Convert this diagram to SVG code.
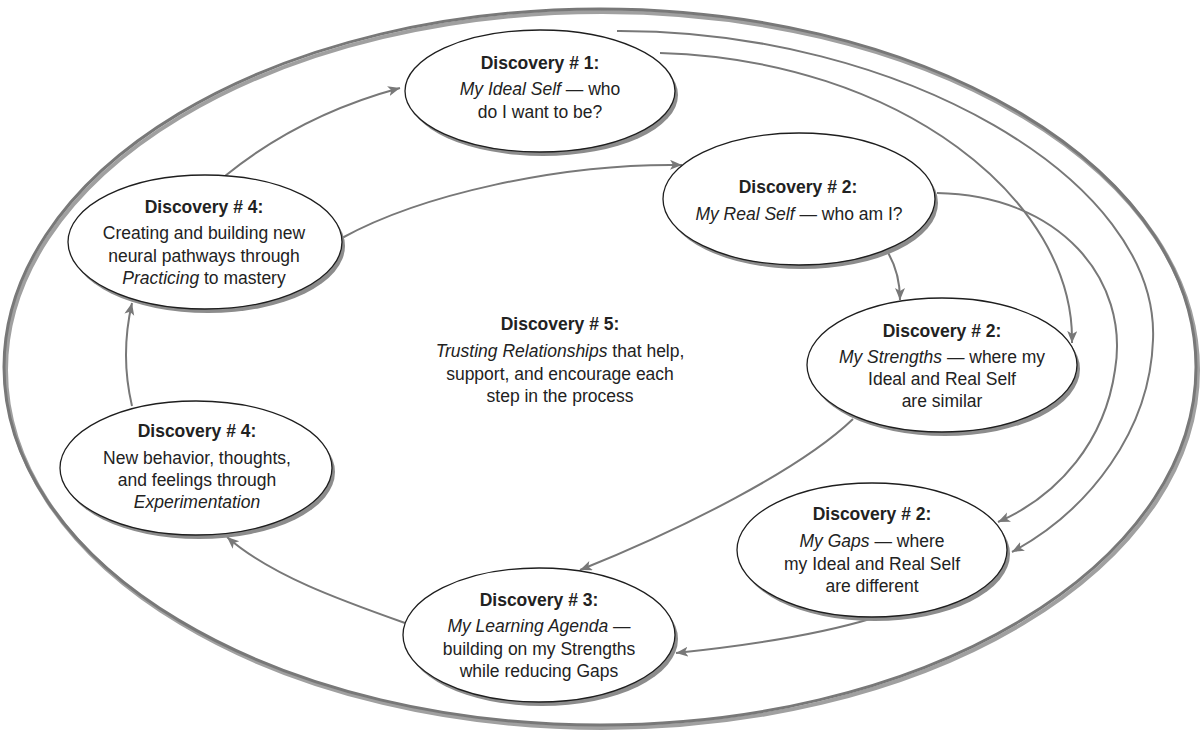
<svg xmlns="http://www.w3.org/2000/svg" width="1200" height="732" viewBox="0 0 1200 732">
<style>
.sh{fill:#8c8c8c;stroke:none}
.nd{fill:#fff;stroke:#1e1e1e;stroke-width:1.3}
.t{font-family:"Liberation Sans",Arial,sans-serif;font-size:17.5px;fill:#222;text-anchor:middle}
.b{font-weight:bold}
.i{font-style:italic}
.c{fill:none;stroke:#787878;stroke-width:2}
</style>
<defs>
<marker id="ah" markerUnits="userSpaceOnUse" markerWidth="14" markerHeight="12" refX="12" refY="5" orient="auto">
<path d="M0,0 L12,5 L0,10 L3,5 z" fill="#787878"/>
</marker>
</defs>
<rect width="1200" height="732" fill="#fff"/>
<g id="outer">
<ellipse cx="602" cy="370" rx="596" ry="358" fill="none" stroke="#a0a0a0" stroke-width="4"/>
<ellipse cx="600" cy="367" rx="596" ry="358" fill="none" stroke="#787878" stroke-width="3"/>
</g>
<g id="connectors">
<path class="c" marker-end="url(#ah)" d="M225,176 Q300,115 400,88"/>
<path class="c" marker-end="url(#ah)" d="M342,238 C420,195 560,163 682,165"/>
<path class="c" marker-end="url(#ah)" d="M887,251 Q900,272 900,300"/>
<path class="c" marker-end="url(#ah)" d="M660,53 C900,60 1075,200 1072,343"/>
<path class="c" marker-end="url(#ah)" d="M937,193 C1060,195 1130,280 1115,370 C1105,440 1060,495 998,522"/>
<path class="c" marker-end="url(#ah)" d="M617,31 C900,30 1160,180 1153,340 C1150,430 1090,510 1012,552"/>
<path class="c" marker-end="url(#ah)" d="M853,419 C800,470 680,530 580,570"/>
<path class="c" marker-end="url(#ah)" d="M870,619 Q800,640 676,653"/>
<path class="c" marker-end="url(#ah)" d="M405,623 C340,600 270,575 227,537"/>
<path class="c" marker-end="url(#ah)" d="M132,406 Q120,355 132,303"/>
</g>
<g id="n1">
<ellipse class="sh" cx="543" cy="95" rx="135" ry="61"/>
<ellipse class="nd" cx="540" cy="91" rx="135" ry="61"/>
<text class="t b" x="540" y="69">Discovery # 1:</text>
<text class="t" x="540" y="95"><tspan class="i">My Ideal Self</tspan> — who</text>
<text class="t" x="540" y="118">do I want to be?</text>
</g>
<g id="n2">
<ellipse class="sh" cx="802" cy="203" rx="136" ry="66"/>
<ellipse class="nd" cx="799" cy="199" rx="136" ry="66"/>
<text class="t b" x="798" y="193">Discovery # 2:</text>
<text class="t" x="799" y="220"><tspan class="i">My Real Self</tspan> — who am I?</text>
</g>
<g id="n3">
<ellipse class="sh" cx="945" cy="369" rx="135" ry="67"/>
<ellipse class="nd" cx="942" cy="365" rx="135" ry="67"/>
<text class="t b" x="942" y="337">Discovery # 2:</text>
<text class="t" x="942" y="363"><tspan class="i">My Strengths</tspan> — where my</text>
<text class="t" x="942" y="385">Ideal and Real Self</text>
<text class="t" x="942" y="407">are similar</text>
</g>
<g id="n4">
<ellipse class="sh" cx="875" cy="554" rx="135" ry="67"/>
<ellipse class="nd" cx="872" cy="550" rx="135" ry="67"/>
<text class="t b" x="872" y="520">Discovery # 2:</text>
<text class="t" x="872" y="547"><tspan class="i">My Gaps</tspan> — where</text>
<text class="t" x="872" y="570">my Ideal and Real Self</text>
<text class="t" x="872" y="592">are different</text>
</g>
<g id="n5">
<ellipse class="sh" cx="542" cy="639" rx="136" ry="67"/>
<ellipse class="nd" cx="539" cy="635" rx="136" ry="67"/>
<text class="t b" x="539" y="606">Discovery # 3:</text>
<text class="t" x="539" y="632"><tspan class="i">My Learning Agenda</tspan> —</text>
<text class="t" x="539" y="655">building on my Strengths</text>
<text class="t" x="539" y="677">while reducing Gaps</text>
</g>
<g id="n6">
<ellipse class="sh" cx="199" cy="472" rx="136" ry="67"/>
<ellipse class="nd" cx="196" cy="468" rx="136" ry="67"/>
<text class="t b" x="197" y="437">Discovery # 4:</text>
<text class="t" x="197" y="464">New behavior, thoughts,</text>
<text class="t" x="197" y="486">and feelings through</text>
<text class="t i" x="197" y="508">Experimentation</text>
</g>
<g id="n7">
<ellipse class="sh" cx="208" cy="246" rx="137" ry="67"/>
<ellipse class="nd" cx="205" cy="242" rx="137" ry="67"/>
<text class="t b" x="204" y="213">Discovery # 4:</text>
<text class="t" x="204" y="239">Creating and building new</text>
<text class="t" x="204" y="262">neural pathways through</text>
<text class="t" x="204" y="284"><tspan class="i">Practicing</tspan> to mastery</text>
</g>
<g id="n8">
<text class="t b" x="560" y="330">Discovery # 5:</text>
<text class="t" x="560" y="357"><tspan class="i">Trusting Relationships</tspan> that help,</text>
<text class="t" x="560" y="380">support, and encourage each</text>
<text class="t" x="560" y="402">step in the process</text>
</g>
</svg>
